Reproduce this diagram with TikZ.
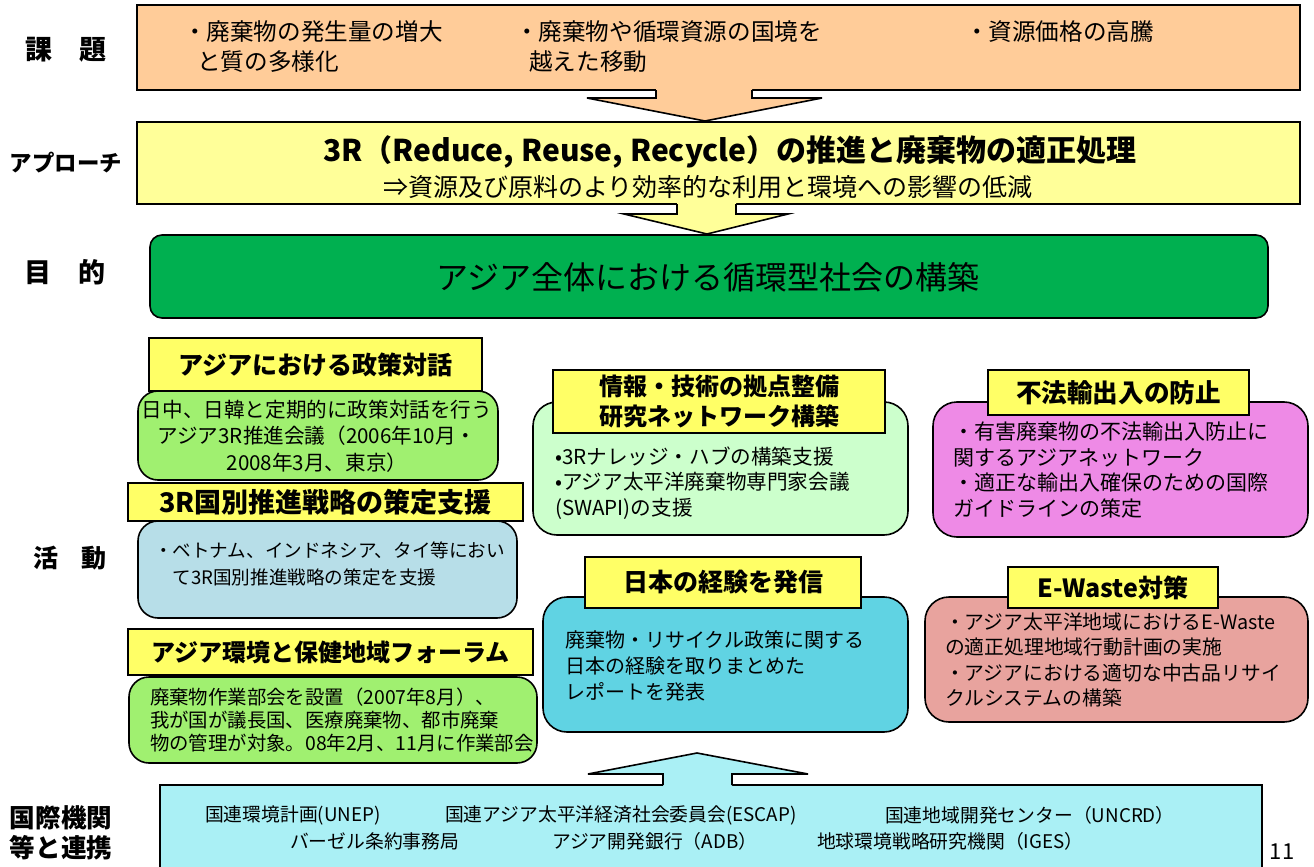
\documentclass[tikz,border=0pt]{standalone}
\usepackage{fontspec}
\setmainfont{Noto Sans CJK JP}
\usetikzlibrary{fit}

\definecolor{issuecol}{HTML}{FFCC99}
\definecolor{apprcol}{HTML}{FFFF99}
\definecolor{goalcol}{HTML}{00B050}
\definecolor{ttlcol}{HTML}{FFFF66}
\definecolor{dialcol}{HTML}{A0F070}
\definecolor{stratcol}{HTML}{B7DEE8}
\definecolor{infocol}{HTML}{CCFFCC}
\definecolor{expcol}{HTML}{60D3E3}
\definecolor{illegcol}{HTML}{EE8AE6}
\definecolor{ewastecol}{HTML}{E8A39E}
\definecolor{orgcol}{HTML}{AAF0F5}

\begin{document}
\begin{tikzpicture}[x=0.5pt,y=-0.5pt,
    box/.style={draw,line width=0.8pt,inner sep=0pt},
    rbox/.style={box,rounded corners=10pt},
    ttl/.style={box,fill=ttlcol},
    lbl/.style={font=\bfseries\fontsize{13.5}{15}\selectfont,align=center},
    head/.style={font=\bfseries\fontsize{12.5}{15}\selectfont,align=center},
    txt/.style={font=\fontsize{10}{12.75}\selectfont,align=left,anchor=west},
    org/.style={font=\fontsize{9.4}{11}\selectfont,anchor=west}]

  \clip (0,0) rectangle (1314,867);

  % labels on the left
  \node[lbl] (l-issue) at (66,50) {課\hspace{1em}題};
  \node[lbl,font=\bfseries\fontsize{11.2}{14}\selectfont] (l-appr) at (66,163) {アプローチ};
  \node[lbl] (l-goal) at (65,272) {目\hspace{1em}的};
  \node[lbl,font=\bfseries\fontsize{12.5}{15}\selectfont] (l-act) at (70,558) {活\hspace{0.9em}動};
  \node[lbl,font=\bfseries\fontsize{12.8}{15}\selectfont] (l-org) at (61,833) {国際機関\\等と連携};

  % issues, approach, goal
  \node[box,fill=issuecol,fit={(137,5) (1300,90)}] (issues) {};
  \node[box,fill=apprcol,fit={(137,122) (1300,204)}] (appr) {};
  \node[box,fill=goalcol,rounded corners=6pt,fit={(150,235) (1268,318)}] (goal) {};

  \fill[issuecol] (656,88) -- (656,98) -- (587,98) -- (705,121) -- (822,98) -- (752,98) -- (752,88) -- cycle;
  \draw[line width=0.8pt] (656,90) -- (656,98) -- (587,98) -- (705,121) -- (822,98) -- (752,98) -- (752,90);
  \fill[apprcol] (677,202) -- (677,214) -- (624,214) -- (707,234) -- (788,214) -- (736,214) -- (736,202) -- cycle;
  \draw[line width=0.8pt] (677,204) -- (677,214) -- (624,214) -- (707,234) -- (788,214) -- (736,214) -- (736,204);

  \node[txt,font=\fontsize{11.8}{15}\selectfont] (iss-a) at (176,47) {・廃棄物の発生量の増大\\\hspace*{0.6em}と質の多様化};
  \node[txt,font=\fontsize{11.8}{15}\selectfont] (iss-b) at (508,47) {・廃棄物や循環資源の国境を\\\hspace*{0.6em}越えた移動};
  \node[txt,font=\fontsize{11.8}{15}\selectfont] (iss-c) at (958,32) {・資源価格の高騰};

  \node[font=\bfseries\fontsize{15}{18}\selectfont] (appr-t) at (730,152) {3R（Reduce, Reuse, Recycle）の推進と廃棄物の適正処理};
  \node[font=\fontsize{12.5}{15}\selectfont] (appr-s) at (708,187) {⇒資源及び原料のより効率的な利用と環境への影響の低減};
  \node[font=\fontsize{16}{19}\selectfont] (goal-t) at (708,277) {アジア全体における循環型社会の構築};

  % activities, left column
  \node[rbox,fill=dialcol,fit={(138,391) (498,480)}] (dial) {};
  \node[ttl,fit={(149,338) (482,391)}] (dial-h) {};
  \node[head] at (dial-h) {アジアにおける政策対話};
  \node[txt,align=center,anchor=center,font=\fontsize{10.3}{13.2}\selectfont] (dial-t) at (317,436)
    {日中、日韓と定期的に政策対話を行う\\アジア3R推進会議（2006年10月・\\2008年3月、東京）};

  \node[rbox,fill=stratcol,fit={(138,521) (517,618)}] (strat) {};
  \node[ttl,fit={(128,483) (523,521)}] (strat-h) {};
  \node[head,font=\bfseries\fontsize{13.5}{15}\selectfont] at (strat-h) {3R国別推進戦略の策定支援};
  \node[txt,font=\fontsize{9.3}{13.5}\selectfont] (strat-t) at (147,564)
    {・ベトナム、インドネシア、タイ等におい\\\hspace*{1em}て3R国別推進戦略の策定を支援};

  \node[rbox,fill=dialcol,fit={(129,677) (537,763)}] (forum) {};
  \node[ttl,fit={(128,629) (533,675)}] (forum-h) {};
  \node[head,font=\bfseries\fontsize{12}{15}\selectfont] at (forum-h) {アジア環境と保健地域フォーラム};
  \node[txt,font=\fontsize{9.7}{11.3}\selectfont] (forum-t) at (143,720)
    {廃棄物作業部会を設置（2007年8月）、\\我が国が議長国、医療廃棄物、都市廃棄\\物の管理が対象。08年2月、11月に作業部会};

  % activities, middle column
  \node[rbox,fill=infocol,rounded corners=12pt,fit={(533,402) (908,535)}] (info) {};
  \node[ttl,fit={(553,370) (885,433)}] (info-h) {};
  \node[head,font=\bfseries\fontsize{12}{15}\selectfont] at (info-h) {情報・技術の拠点整備\\研究ネットワーク構築};
  \node[txt,font=\fontsize{10.3}{12.75}\selectfont] (info-t) at (548,483)
    {•3Rナレッジ・ハブの構築支援\\•アジア太平洋廃棄物専門家会議\\(SWAPI)の支援};

  \node[rbox,fill=expcol,rounded corners=12pt,fit={(543,597) (908,732)}] (exp) {};
  \node[ttl,fit={(585,557) (861,608)}] (exp-h) {};
  \node[head] at (exp-h) {日本の経験を発信};
  \node[txt,font=\fontsize{10}{13}\selectfont] (exp-t) at (558,666)
    {廃棄物・リサイクル政策に関する\\日本の経験を取りまとめた\\レポートを発表};

  % activities, right column
  \node[rbox,fill=illegcol,rounded corners=12pt,fit={(933,402) (1308,537)}] (illeg) {};
  \node[ttl,fit={(988,370) (1249,415)}] (illeg-h) {};
  \node[head,font=\bfseries\fontsize{12.8}{15}\selectfont] at (illeg-h) {不法輸出入の防止};
  \node[txt,font=\fontsize{10.5}{12.7}\selectfont] (illeg-t) at (946,470)
    {・有害廃棄物の不法輸出入防止に\\関するアジアネットワーク\\・適正な輸出入確保のための国際\\ガイドラインの策定};

  \node[rbox,fill=ewastecol,rounded corners=12pt,fit={(925,597) (1308,722)}] (ewaste) {};
  \node[ttl,fit={(1008,567) (1218,608)}] (ewaste-h) {};
  \node[head] at (ewaste-h) {E-Waste対策};
  \node[txt,font=\fontsize{9.9}{12.7}\selectfont] (ewaste-t) at (938,660)
    {・アジア太平洋地域におけるE-Waste\\の適正処理地域行動計画の実施\\・アジアにおける適切な中古品リサイ\\クルシステムの構築};

  % international organisations
  \node[box,fill=orgcol,fit={(160,785) (1262,900)}] (orgs) {};
  \fill[orgcol] (663,787) -- (663,774) -- (588,774) -- (697,753) -- (808,774) -- (732,774) -- (732,787) -- cycle;
  \draw[line width=0.8pt] (663,785) -- (663,774) -- (588,774) -- (697,753) -- (808,774) -- (732,774) -- (732,785);

  \node[org] (unep) at (198,815) {国連環境計画(UNEP)};
  \node[org] (escap) at (438,815) {国連アジア太平洋経済社会委員会(ESCAP)};
  \node[org] (uncrd) at (878,815) {国連地域開発センター（UNCRD）};
  \node[org] (basel) at (283,841) {バーゼル条約事務局};
  \node[org] (adb) at (545,841) {アジア開発銀行（ADB）};
  \node[org] (iges) at (810,841) {地球環境戦略研究機関（IGES）};

  \node[font=\fontsize{11}{13}\selectfont] (page) at (1282,852) {11};
\end{tikzpicture}
\end{document}
